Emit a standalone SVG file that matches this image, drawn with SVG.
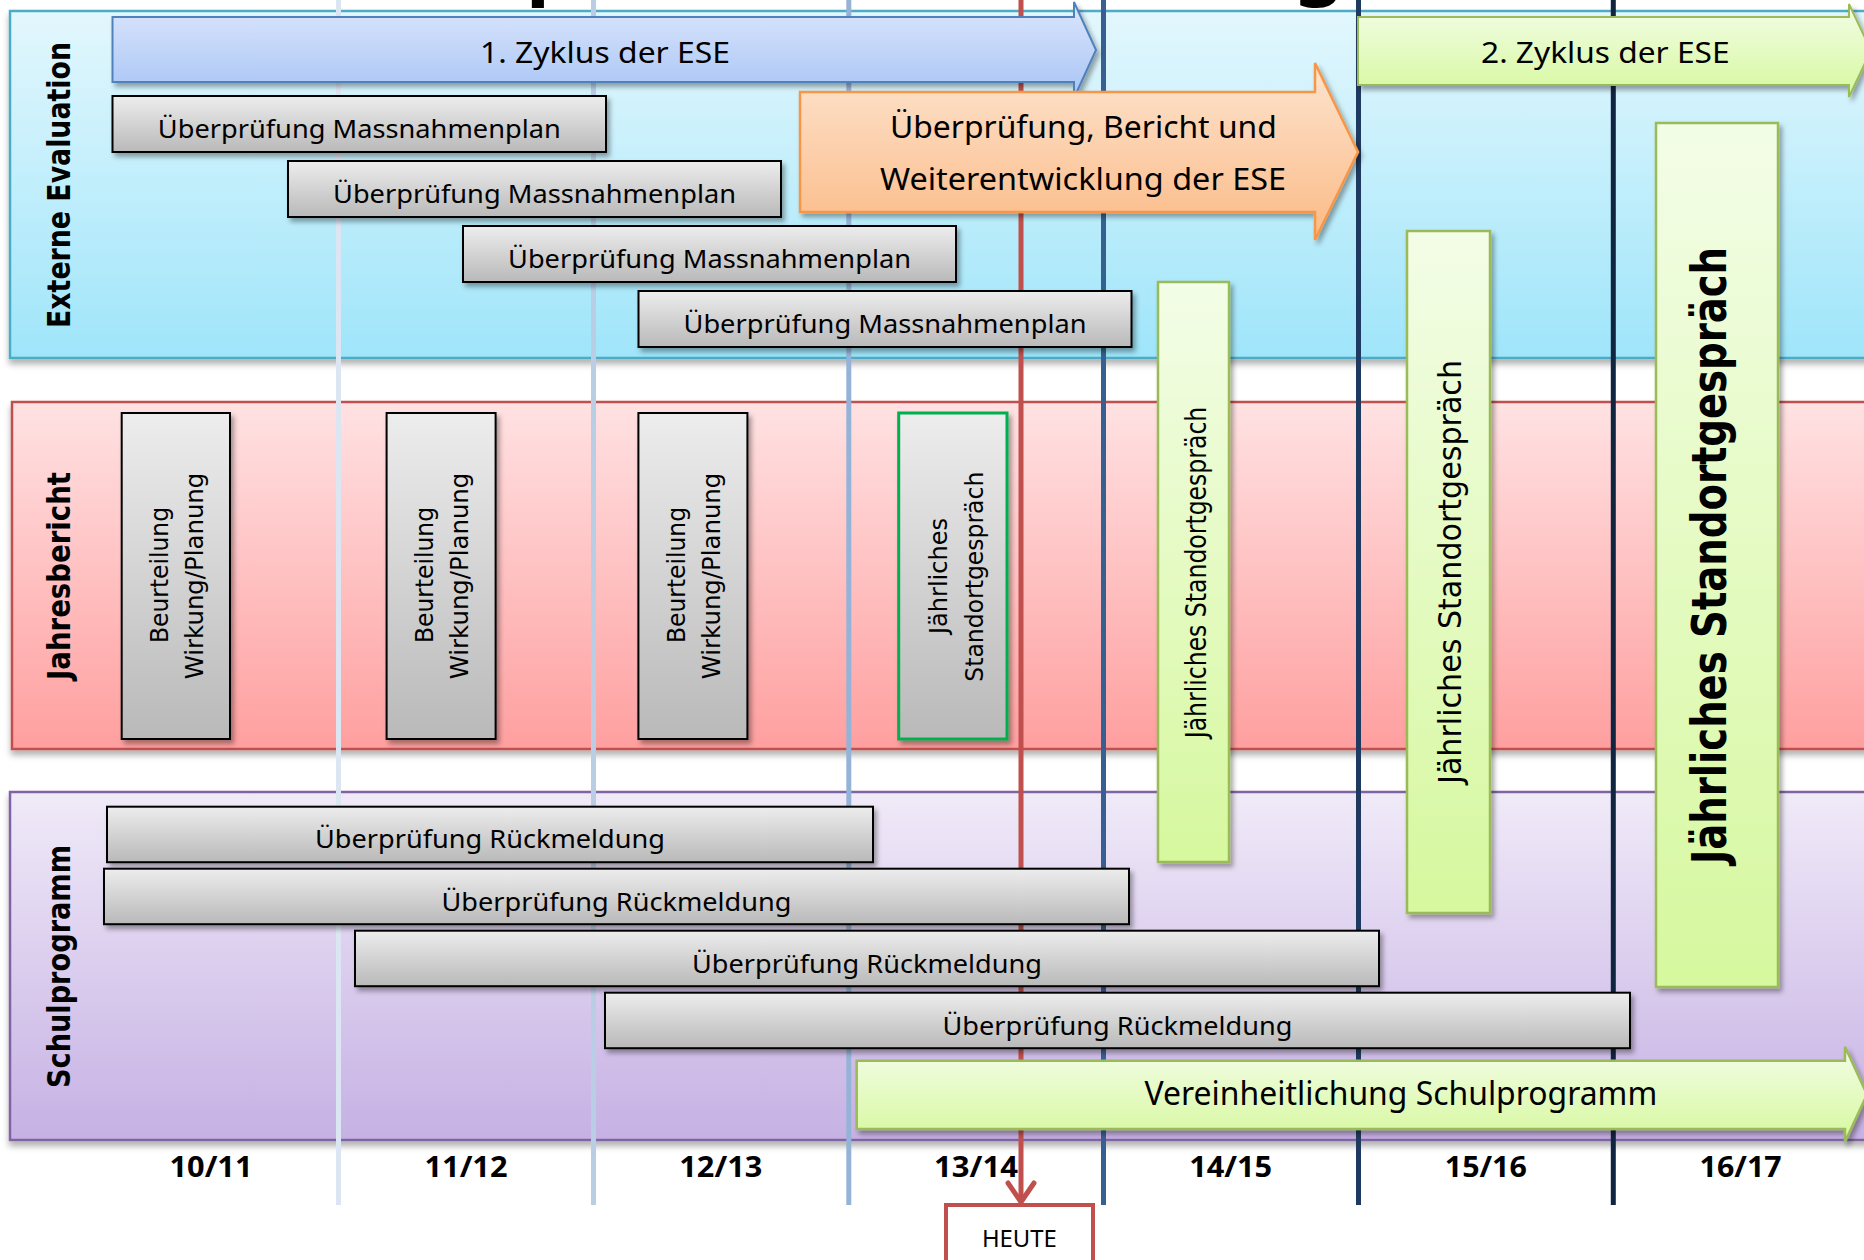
<svg xmlns="http://www.w3.org/2000/svg" width="1864" height="1260" viewBox="0 0 1864 1260">
<defs>
  <linearGradient id="gBluePanel" x1="0" y1="0" x2="0" y2="1"><stop offset="0" stop-color="#e3f7fd"/><stop offset="1" stop-color="#9fe5fa"/></linearGradient>
  <linearGradient id="gRedPanel" x1="0" y1="0" x2="0" y2="1"><stop offset="0" stop-color="#ffe2e3"/><stop offset="1" stop-color="#ff9f9f"/></linearGradient>
  <linearGradient id="gPurplePanel" x1="0" y1="0" x2="0" y2="1"><stop offset="0" stop-color="#f0eaf8"/><stop offset="1" stop-color="#c6b1e4"/></linearGradient>
  <linearGradient id="gGray" x1="0" y1="0" x2="0" y2="1"><stop offset="0" stop-color="#ededed"/><stop offset="1" stop-color="#b9b9b9"/></linearGradient>
  <linearGradient id="gGreen" x1="0" y1="0" x2="0" y2="1"><stop offset="0" stop-color="#f3fde7"/><stop offset="1" stop-color="#d6f89e"/></linearGradient>
  <linearGradient id="gBlueArrow" x1="0" y1="0" x2="0" y2="1"><stop offset="0" stop-color="#dce6fc"/><stop offset="1" stop-color="#a7c4f5"/></linearGradient>
  <linearGradient id="gOrange" x1="0" y1="0" x2="0" y2="1"><stop offset="0" stop-color="#fde4cf"/><stop offset="1" stop-color="#fbba86"/></linearGradient>
  <filter id="sh" x="-10%" y="-10%" width="130%" height="130%">
    <feDropShadow dx="3" dy="4" stdDeviation="2.5" flood-color="#000" flood-opacity="0.35"/>
  </filter>
  <filter id="psh" x="-5%" y="-5%" width="110%" height="120%">
    <feDropShadow dx="0" dy="5" stdDeviation="3" flood-color="#000" flood-opacity="0.3"/>
  </filter>
</defs>
<style>
  .cal { font-family: "Noto Sans", "Open Sans", sans-serif; fill: #000; }
  .calb { font-family: "Noto Sans", "Open Sans", sans-serif; font-weight: bold; fill: #000; }
  .ver { font-family: "DejaVu Sans", Verdana, sans-serif; fill: #000; }
  .verb { font-family: "DejaVu Sans", Verdana, sans-serif; font-weight: bold; fill: #000; }
  .gbox { fill: url(#gGray); stroke: #000; stroke-width: 2; filter: url(#sh); }
  .grn { fill: url(#gGreen); stroke: #9bbb59; stroke-width: 2.5; filter: url(#sh); }
  .mp { font-size: 25.6px; }
  .vt { font-size: 25px; }
  .lbl { font-size: 31.5px; }
  .yr { font-size: 28px; }
  .grid { stroke-width: 5; fill: none; }
</style>

<!-- cut-off title fragments -->
<g id="title-fragment">
  <text class="calb" x="526" y="-11" font-size="80">p</text>
  <text class="calb" x="1294" y="-11" font-size="80">g</text>
</g>

<!-- lanes -->
<g id="lane-externe-evaluation">
  <rect x="10" y="11" width="1880" height="347" fill="url(#gBluePanel)" stroke="#4bacc6" stroke-width="2.5" filter="url(#psh)"/>
  <text class="verb lbl" transform="translate(69.5,185) rotate(-90)" text-anchor="middle" textLength="286" lengthAdjust="spacingAndGlyphs">Externe Evaluation</text>
</g>
<g id="lane-jahresbericht">
  <rect x="12" y="402" width="1880" height="347" fill="url(#gRedPanel)" stroke="#c0504d" stroke-width="2.5" filter="url(#psh)"/>
  <text class="verb lbl" transform="translate(70,576) rotate(-90)" text-anchor="middle" textLength="208" lengthAdjust="spacingAndGlyphs">Jahresbericht</text>
</g>
<g id="lane-schulprogramm">
  <rect x="10" y="792" width="1880" height="348" fill="url(#gPurplePanel)" stroke="#8064a2" stroke-width="2.5" filter="url(#psh)"/>
  <text class="verb lbl" transform="translate(69.5,966.5) rotate(-90)" text-anchor="middle" textLength="243" lengthAdjust="spacingAndGlyphs">Schulprogramm</text>
</g>

<!-- year separator lines -->
<g id="gridlines" class="grid">
  <line x1="338.5" y1="0" x2="338.5" y2="1205" stroke="#dce6f2"/>
  <line x1="593.5" y1="0" x2="593.5" y2="1205" stroke="#b9cde5"/>
  <line x1="848.8" y1="0" x2="848.8" y2="1205" stroke="#95b3d7"/>
  <line x1="1103.5" y1="0" x2="1103.5" y2="1205" stroke="#376092"/>
  <line x1="1358.5" y1="0" x2="1358.5" y2="1205" stroke="#1f3a60"/>
  <line x1="1613.3" y1="0" x2="1613.3" y2="1205" stroke="#10253f"/>
</g>

<!-- connectors -->
<g id="connectors">
  <line x1="1021" y1="0" x2="1021" y2="1201" stroke="#c0504d" stroke-width="5"/>
  <polyline points="1008,1183 1021,1202 1034,1183" fill="none" stroke="#c0504d" stroke-width="5" stroke-linecap="round" stroke-linejoin="round"/>
</g>

<!-- Externe Evaluation nodes -->
<g id="zyklus1">
  <path d="M112.5,17 H1074 V2 L1096,50 L1074,98 V82 H112.5 Z" fill="url(#gBlueArrow)" stroke="#4f81bd" stroke-width="2" filter="url(#sh)"/>
  <text class="cal" x="605" y="63" font-size="29" text-anchor="middle" textLength="250" lengthAdjust="spacingAndGlyphs">1. Zyklus der ESE</text>
</g>
<g id="zyklus2">
  <path d="M1358,17 H1849 V4 L1871,50.5 L1849,97 V85 H1358 Z" fill="url(#gGreen)" stroke="#9bbb59" stroke-width="2" filter="url(#sh)"/>
  <text class="cal" x="1605.3" y="63" font-size="29" text-anchor="middle" textLength="248.6" lengthAdjust="spacingAndGlyphs">2. Zyklus der ESE</text>
</g>
<g id="massnahmenplan-1">
  <rect class="gbox" x="112.5" y="96" width="493.5" height="56"/>
  <text class="cal mp" x="359.3" y="138" text-anchor="middle" textLength="403" lengthAdjust="spacingAndGlyphs">Überprüfung Massnahmenplan</text>
</g>
<g id="massnahmenplan-2">
  <rect class="gbox" x="288" y="161" width="493" height="56"/>
  <text class="cal mp" x="534.5" y="203" text-anchor="middle" textLength="403" lengthAdjust="spacingAndGlyphs">Überprüfung Massnahmenplan</text>
</g>
<g id="massnahmenplan-3">
  <rect class="gbox" x="463" y="226" width="493" height="56"/>
  <text class="cal mp" x="709.5" y="268" text-anchor="middle" textLength="403" lengthAdjust="spacingAndGlyphs">Überprüfung Massnahmenplan</text>
</g>
<g id="massnahmenplan-4">
  <rect class="gbox" x="638.5" y="291" width="493" height="56"/>
  <text class="cal mp" x="885" y="333" text-anchor="middle" textLength="403" lengthAdjust="spacingAndGlyphs">Überprüfung Massnahmenplan</text>
</g>
<g id="weiterentwicklung">
  <path d="M800,92 H1315 V63 L1358,152 L1315,240 V212 H800 Z" fill="url(#gOrange)" stroke="#f79646" stroke-width="2.5" filter="url(#sh)"/>
  <text class="cal" x="1083.4" y="138" font-size="30.4" text-anchor="middle" textLength="387" lengthAdjust="spacingAndGlyphs">Überprüfung, Bericht und</text>
  <text class="cal" x="1083" y="190" font-size="30.4" text-anchor="middle" textLength="406" lengthAdjust="spacingAndGlyphs">Weiterentwicklung der ESE</text>
</g>

<!-- Jahresbericht nodes -->
<g id="beurteilung-1">
  <rect class="gbox" x="121.7" y="413" width="108.3" height="326"/>
  <text class="ver vt" transform="translate(168.3,575) rotate(-90)" text-anchor="middle" textLength="136" lengthAdjust="spacingAndGlyphs">Beurteilung</text>
  <text class="ver vt" transform="translate(202.7,576) rotate(-90)" text-anchor="middle" textLength="206.6" lengthAdjust="spacingAndGlyphs">Wirkung/Planung</text>
</g>
<g id="beurteilung-2">
  <rect class="gbox" x="386.6" y="413" width="109" height="326"/>
  <text class="ver vt" transform="translate(433.4,575) rotate(-90)" text-anchor="middle" textLength="136" lengthAdjust="spacingAndGlyphs">Beurteilung</text>
  <text class="ver vt" transform="translate(467.8,576) rotate(-90)" text-anchor="middle" textLength="206.6" lengthAdjust="spacingAndGlyphs">Wirkung/Planung</text>
</g>
<g id="beurteilung-3">
  <rect class="gbox" x="638.4" y="413" width="109" height="326"/>
  <text class="ver vt" transform="translate(685.3,575) rotate(-90)" text-anchor="middle" textLength="136" lengthAdjust="spacingAndGlyphs">Beurteilung</text>
  <text class="ver vt" transform="translate(719.7,576) rotate(-90)" text-anchor="middle" textLength="206.6" lengthAdjust="spacingAndGlyphs">Wirkung/Planung</text>
</g>
<g id="standortgespraech-13-14">
  <rect x="898.7" y="413" width="108.3" height="326" fill="url(#gGray)" stroke="#00b050" stroke-width="3" filter="url(#sh)"/>
  <text class="ver vt" transform="translate(946.9,576) rotate(-90)" text-anchor="middle" textLength="116" lengthAdjust="spacingAndGlyphs">Jährliches</text>
  <text class="ver vt" transform="translate(982.6,576.7) rotate(-90)" text-anchor="middle" textLength="210" lengthAdjust="spacingAndGlyphs">Standortgespräch</text>
</g>

<!-- green annual talks -->
<g id="standortgespraech-14-15">
  <rect class="grn" x="1158" y="282" width="71" height="580"/>
  <text class="ver" font-size="27.5" transform="translate(1205.8,572.5) rotate(-90)" text-anchor="middle" textLength="331.6" lengthAdjust="spacingAndGlyphs">Jährliches Standortgespräch</text>
</g>
<g id="standortgespraech-15-16">
  <rect class="grn" x="1407" y="231" width="83" height="682"/>
  <text class="ver" font-size="32" transform="translate(1461.4,572) rotate(-90)" text-anchor="middle" textLength="424" lengthAdjust="spacingAndGlyphs">Jährliches Standortgespräch</text>
</g>
<g id="standortgespraech-16-17">
  <rect class="grn" x="1656" y="123" width="122" height="864"/>
  <text class="verb" font-size="48" transform="translate(1725.7,555.5) rotate(-90)" text-anchor="middle" textLength="617" lengthAdjust="spacingAndGlyphs">Jährliches Standortgespräch</text>
</g>

<!-- Schulprogramm nodes -->
<g id="rueckmeldung-1">
  <rect class="gbox" x="107" y="806.7" width="766" height="55.5"/>
  <text class="cal mp" x="490" y="848.3" text-anchor="middle" textLength="350" lengthAdjust="spacingAndGlyphs">Überprüfung Rückmeldung</text>
</g>
<g id="rueckmeldung-2">
  <rect class="gbox" x="104" y="868.7" width="1025" height="55.5"/>
  <text class="cal mp" x="616.5" y="910.5" text-anchor="middle" textLength="350" lengthAdjust="spacingAndGlyphs">Überprüfung Rückmeldung</text>
</g>
<g id="rueckmeldung-3">
  <rect class="gbox" x="355" y="930.7" width="1024" height="55.5"/>
  <text class="cal mp" x="867" y="973" text-anchor="middle" textLength="350" lengthAdjust="spacingAndGlyphs">Überprüfung Rückmeldung</text>
</g>
<g id="rueckmeldung-4">
  <rect class="gbox" x="605" y="992.7" width="1025" height="55.5"/>
  <text class="cal mp" x="1117.5" y="1035" text-anchor="middle" textLength="350" lengthAdjust="spacingAndGlyphs">Überprüfung Rückmeldung</text>
</g>
<g id="vereinheitlichung">
  <path d="M856.7,1060.7 H1845 V1046.7 L1867,1094.5 L1845,1141.7 V1129 H856.7 Z" fill="url(#gGreen)" stroke="#9bbb59" stroke-width="2.5" filter="url(#sh)"/>
  <text class="cal" x="1400.9" y="1105" font-size="32" text-anchor="middle" textLength="512.6" lengthAdjust="spacingAndGlyphs">Vereinheitlichung Schulprogramm</text>
</g>

<!-- year labels -->
<g id="years">
  <text class="calb yr" x="211" y="1176.7" text-anchor="middle" textLength="83" lengthAdjust="spacingAndGlyphs">10/11</text>
  <text class="calb yr" x="466" y="1176.7" text-anchor="middle" textLength="83" lengthAdjust="spacingAndGlyphs">11/12</text>
  <text class="calb yr" x="720.8" y="1176.7" text-anchor="middle" textLength="83" lengthAdjust="spacingAndGlyphs">12/13</text>
  <text class="calb yr" x="976" y="1176.7" text-anchor="middle" textLength="84" lengthAdjust="spacingAndGlyphs">13/14</text>
  <text class="calb yr" x="1230.7" y="1176.7" text-anchor="middle" textLength="83" lengthAdjust="spacingAndGlyphs">14/15</text>
  <text class="calb yr" x="1485.8" y="1176.7" text-anchor="middle" textLength="82" lengthAdjust="spacingAndGlyphs">15/16</text>
  <text class="calb yr" x="1740.6" y="1176.7" text-anchor="middle" textLength="82" lengthAdjust="spacingAndGlyphs">16/17</text>
</g>

<!-- HEUTE marker -->
<g id="heute">
  <rect x="946" y="1205" width="147" height="70" fill="#fff" stroke="#c0504d" stroke-width="4"/>
  <text class="cal" x="1019.4" y="1246.7" font-size="24" text-anchor="middle" textLength="75" lengthAdjust="spacingAndGlyphs">HEUTE</text>
</g>
</svg>
